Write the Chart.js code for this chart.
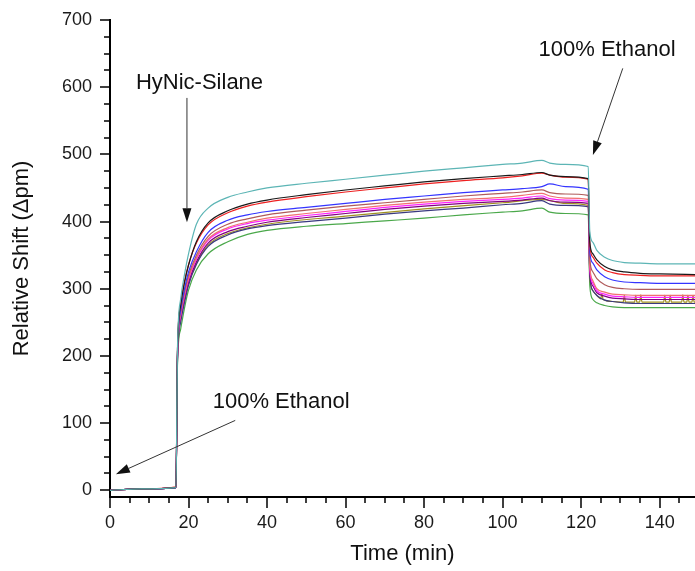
<!DOCTYPE html>
<html>
<head>
<meta charset="utf-8">
<script src="https://cdn.jsdelivr.net/npm/chart.js@4.4.1/dist/chart.umd.min.js"></script>
<style>
  html, body { margin: 0; padding: 0; background: #fff; overflow: hidden; }
  canvas { display: block; }
</style>
</head>
<body>
<canvas id="myChart" width="695" height="571"></canvas>
<script>
// time axis (min), shared by most traces
const times = [0, 8, 16.8, 17.2, 18, 19, 20, 22, 25, 30, 35, 40, 50, 60, 70, 80, 90, 100, 105, 110, 112, 116, 121.8, 122.2, 123, 124, 126, 128, 131, 135, 140, 150];

const teal    = [0, 2, 4, 215, 285, 322, 352, 396, 420, 436, 444, 450, 457, 463, 469, 475, 480, 485, 487, 491, 487, 485, 482, 385, 369, 357, 347, 342, 339, 338, 337, 337];
const black   = [0, 2, 4, 210, 275, 310, 335, 370, 398, 416, 426, 432, 440, 447, 453, 459, 464, 468, 470, 473, 469, 467, 464, 370, 352, 343, 333, 328, 325, 323, 322, 321];
const red     = [0, 2, 5, 210, 278, 312, 336, 368, 395, 413, 423, 429, 437, 444, 450, 456, 461, 465, 468, 472, 469, 466, 463, 365, 347, 338, 328, 324, 321, 320, 319, 319];
const blue    = [0, 2, 4, 205, 268, 300, 325, 355, 384, 402, 410, 415, 421, 427, 433, 438, 443, 447, 449, 452, 456, 452, 448, 355, 338, 328, 318, 313, 310, 309, 308, 308];
const brown   = [0, 2, 4, 205, 265, 296, 320, 350, 378, 396, 404, 410, 417, 423, 428, 433, 438, 442, 444, 447, 443, 441, 439, 345, 325, 315, 306, 302, 300, 299, 299, 299];
const salmon  = [0, 2, 4, 205, 262, 293, 316, 346, 374, 391, 399, 405, 412, 418, 424, 429, 433, 436, 439, 442, 438, 435, 433, 335, 312, 300, 295, 292, 291, 290, 290, 290];
const magenta = [0, 2, 4, 200, 260, 290, 314, 344, 372, 389, 397, 402, 409, 415, 421, 426, 430, 433, 435, 438, 434, 432, 430, 330, 308, 297, 292, 289, 288, 287, 287, 287];
const purple  = [0, 2, 4, 200, 258, 287, 310, 340, 368, 385, 393, 399, 406, 412, 418, 423, 427, 430, 432, 435, 431, 429, 427, 325, 304, 294, 289, 286, 285, 284, 284, 284];
const navy    = [0, 2, 4, 195, 250, 280, 305, 336, 363, 380, 389, 394, 400, 405, 411, 416, 420, 425, 427, 431, 426, 424, 422, 320, 297, 290, 283, 281, 279, 278, 278, 278];
const green   = [0, 2, 4, 190, 240, 272, 298, 328, 352, 370, 381, 387, 393, 397, 401, 405, 410, 414, 416, 420, 414, 412, 410, 305, 284, 279, 275, 273, 272, 272, 272, 272];

// olive trace has its own sampling because of the spikes after the ethanol step
const oliveTimes = [0, 8, 16.8, 17.2, 18, 19, 20, 22, 25, 30, 40, 60, 80, 100, 110, 116, 121.8, 122.2, 123, 124,
  125, 125.3, 125.6, 128, 130.7, 131, 131.3, 133.6, 133.9, 134.2, 134.9, 135.2, 135.5, 141, 141.3, 141.6, 142.4, 142.7, 143, 145.6,
  145.9, 146.2, 146.9, 147.2, 147.5, 148.2, 148.5, 148.8, 150];
const olive = [0, 2, 4, 198, 255, 284, 308, 338, 365, 382, 396, 408, 419, 428, 433, 427, 424, 318, 297, 290,
  285, 293, 284, 281, 280, 290, 280, 280, 290, 280, 280, 291, 280, 280, 290, 280, 280, 290, 280, 280,
  291, 280, 280, 290, 280, 280, 290, 280, 280];

const xTicks = [0, 20, 40, 60, 80, 100, 120, 140];
const xMinor = [5, 10, 15, 25, 30, 35, 45, 50, 55, 65, 70, 75, 85, 90, 95, 105, 110, 115, 125, 130, 135, 145];
const yTicks = [0, 100, 200, 300, 400, 500, 600, 700];
const yMinor = [25, 50, 75, 125, 150, 175, 225, 250, 275, 325, 350, 375, 425, 450, 475, 525, 550, 575, 625, 650, 675];

const series = [
  { label: 'teal', color: '#5cb5b5', x: times, y: teal },
  { label: 'black', color: '#1a1a1a', x: times, y: black },
  { label: 'red', color: '#ee2020', x: times, y: red },
  { label: 'blue', color: '#3535ff', x: times, y: blue },
  { label: 'brown', color: '#b05a5a', x: times, y: brown },
  { label: 'salmon', color: '#f07070', x: times, y: salmon },
  { label: 'magenta', color: '#ff20ff', x: times, y: magenta },
  { label: 'purple', color: '#800080', x: times, y: purple },
  { label: 'navy', color: '#3a3a80', x: times, y: navy },
  { label: 'olive', color: '#a09020', x: oliveTimes, y: olive },
  { label: 'green', color: '#4aa84a', x: times, y: green },
];

const font = "'Liberation Sans', Arial, sans-serif";
Chart.defaults.font.family = font;

function arrow(ctx, x1, y1, x2, y2) {
  const a = Math.atan2(y2 - y1, x2 - x1);
  const len = 14, half = 4.5;
  ctx.save();
  ctx.strokeStyle = '#333';
  ctx.fillStyle = '#111';
  ctx.lineWidth = 1;
  ctx.beginPath();
  ctx.moveTo(x1, y1);
  ctx.lineTo(x2 - Math.cos(a) * len, y2 - Math.sin(a) * len);
  ctx.stroke();
  ctx.beginPath();
  ctx.moveTo(x2, y2);
  ctx.lineTo(x2 - Math.cos(a) * len - Math.sin(a) * half, y2 - Math.sin(a) * len + Math.cos(a) * half);
  ctx.lineTo(x2 - Math.cos(a) * len + Math.sin(a) * half, y2 - Math.sin(a) * len - Math.cos(a) * half);
  ctx.closePath();
  ctx.fill();
  ctx.restore();
}

const decor = {
  id: 'decor',
  afterDraw(chart) {
    const { ctx, scales: { x, y } } = chart;
    ctx.save();
    ctx.strokeStyle = '#000';
    ctx.lineWidth = 1.5;
    const x0 = chart.chartArea.left, yb = chart.chartArea.bottom;
    ctx.beginPath();
    xTicks.forEach(v => { const p = Math.round(x.getPixelForValue(v)); ctx.moveTo(p, yb); ctx.lineTo(p, yb + 11); });
    xMinor.forEach(v => { const p = Math.round(x.getPixelForValue(v)); ctx.moveTo(p, yb); ctx.lineTo(p, yb + 6); });
    yTicks.forEach(v => { const p = Math.round(y.getPixelForValue(v)); ctx.moveTo(x0, p); ctx.lineTo(x0 - 10, p); });
    yMinor.forEach(v => { const p = Math.round(y.getPixelForValue(v)); ctx.moveTo(x0, p); ctx.lineTo(x0 - 6, p); });
    ctx.stroke();

    // annotations
    ctx.fillStyle = '#111';
    ctx.font = '22px ' + font;
    ctx.textAlign = 'center';
    ctx.textBaseline = 'middle';
    ctx.fillText('HyNic-Silane', x.getPixelForValue(22.8), y.getPixelForValue(606));
    arrow(ctx, x.getPixelForValue(19.6), y.getPixelForValue(584), x.getPixelForValue(19.6), y.getPixelForValue(399));
    ctx.fillText('100% Ethanol', x.getPixelForValue(126.6), y.getPixelForValue(656));
    arrow(ctx, x.getPixelForValue(130.6), y.getPixelForValue(628), x.getPixelForValue(123), y.getPixelForValue(499));
    ctx.fillText('100% Ethanol', x.getPixelForValue(43.6), y.getPixelForValue(132));
    arrow(ctx, x.getPixelForValue(31.9), y.getPixelForValue(104), x.getPixelForValue(1.5), y.getPixelForValue(24));
    ctx.restore();
  }
};

new Chart(document.getElementById('myChart'), {
  type: 'line',
  data: {
    datasets: series.map(s => ({
      label: s.label,
      data: s.x.map((t, i) => ({ x: t, y: s.y[i] })),
      borderColor: s.color,
      backgroundColor: s.color,
      borderWidth: 1.2,
      pointRadius: 0,
      cubicInterpolationMode: 'monotone',
      fill: false,
    })),
  },
  options: {
    responsive: false,
    animation: false,
    devicePixelRatio: 1,
    layout: { padding: { left: 0, right: 0, top: 20, bottom: 0 } },
    plugins: { legend: { display: false }, tooltip: { enabled: false } },
    scales: {
      x: {
        type: 'linear',
        min: 0,
        max: 149,
        afterFit: s => { s.height = 74; s.paddingLeft = 0; s.paddingRight = 0; },
        afterBuildTicks: s => { s.ticks = xTicks.map(v => ({ value: v })); },
        grid: { display: false, drawTicks: false },
        border: { display: true, color: '#000', width: 2 },
        ticks: { color: '#1a1a1a', font: { size: 18 }, padding: 15, maxRotation: 0, autoSkip: false },
        title: { display: true, text: 'Time (min)', color: '#111', font: { size: 22 }, padding: { top: 0, bottom: 4 } },
      },
      y: {
        type: 'linear',
        min: -10,
        max: 700,
        afterFit: s => { s.width = 110; s.paddingTop = 0; s.paddingBottom = 0; },
        afterBuildTicks: s => { s.ticks = yTicks.map(v => ({ value: v })); },
        grid: { display: false, drawTicks: false },
        border: { display: true, color: '#000', width: 2 },
        ticks: { color: '#1a1a1a', font: { size: 18 }, padding: 18, autoSkip: false },
        title: { display: true, text: 'Relative Shift (\u0394pm)', color: '#111', font: { size: 22 }, padding: { top: 9, bottom: 0 } },
      },
    },
  },
  plugins: [decor],
});
</script>
</body>
</html>
